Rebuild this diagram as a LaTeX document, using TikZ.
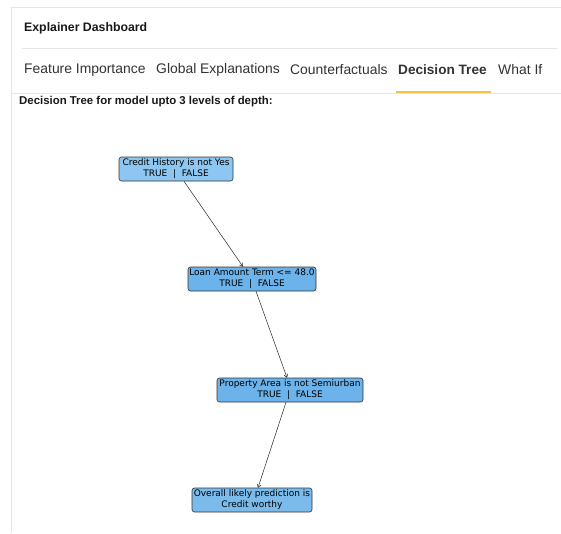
\documentclass[tikz,border=0pt]{standalone}
\usepackage{fontspec}
\setmainfont{Liberation Sans}
\newfontfamily\treefont{DejaVu Sans}
\usetikzlibrary{arrows.meta}
\definecolor{framegray}{HTML}{E6E6E6}
\definecolor{tabyellow}{HTML}{F5C242}
\definecolor{uitext}{HTML}{333333}
\definecolor{rootblue}{HTML}{8DC6F0}
\definecolor{nodeblue}{HTML}{6BB3EA}
\definecolor{leafblue}{HTML}{7ABBEC}
\begin{document}
\begin{tikzpicture}[x=1pt,y=-1pt,
  frame/.style={draw=framegray,line width=0.8pt},
  tab/.style={anchor=west,inner sep=0pt,text=uitext,font=\fontsize{13.9}{16}\selectfont},
  treebox/.style={draw=black!80,rounded corners=2.5pt,line width=0.6pt,align=center,
    inner sep=0pt,minimum height=24pt,font=\treefont\fontsize{9}{11}\selectfont},
  edge/.style={draw=black!85,line width=0.5pt,-{Straight Barb[length=3pt,width=4pt]}}]
\useasboundingbox (0,0) rectangle (561,533);
\fill[white] (0,0) rectangle (561,533);
% card outline and separators
\draw[frame] (11,533) -- (11,7) -- (561,7);
\draw[frame] (22,48) -- (557,48);
\draw[frame] (11,93) -- (561,93);
\fill[tabyellow] (396,90.5) rectangle (491,92.5);
% header
\node[anchor=west,inner sep=0pt,text=black!90,font=\bfseries\fontsize{12.3}{14}\selectfont] (title) at (24,28) {Explainer Dashboard};
% tab bar
\node[tab] (t1) at (24,70) {Feature Importance};
\node[tab] (t2) at (156,70) {Global Explanations};
\node[tab] (t3) at (290,70) {Counterfactuals};
\node[tab,font=\bfseries\fontsize{13.6}{16}\selectfont] (t4) at (398,70) {Decision Tree};
\node[tab] (t5) at (498,70) {What If};
\node[anchor=west,inner sep=0pt,text=black!90,font=\bfseries\fontsize{11.4}{13}\selectfont] (sub) at (19,101.5) {Decision Tree for model upto 3 levels of depth:};
% tree
\node[treebox,fill=rootblue,minimum width=114pt] (n1) at (176,169) {Credit History is not Yes\\TRUE\ \ |\ \ FALSE};
\node[treebox,fill=nodeblue,minimum width=128pt] (n2) at (252,279) {Loan Amount Term <= 48.0\\TRUE\ \ |\ \ FALSE};
\node[treebox,fill=nodeblue,minimum width=146pt] (n3) at (290,390) {Property Area is not Semiurban\\TRUE\ \ |\ \ FALSE};
\node[treebox,fill=leafblue,minimum width=120pt] (n4) at (252,500) {Overall likely prediction is\\Credit worthy};
\draw[edge] ([xshift=8pt]n1.south) -- ([xshift=-9pt]n2.north);
\draw[edge] ([xshift=4pt]n2.south) -- ([xshift=-3pt]n3.north);
\draw[edge] ([xshift=-4pt]n3.south) -- ([xshift=6pt]n4.north);
\end{tikzpicture}
\end{document}
